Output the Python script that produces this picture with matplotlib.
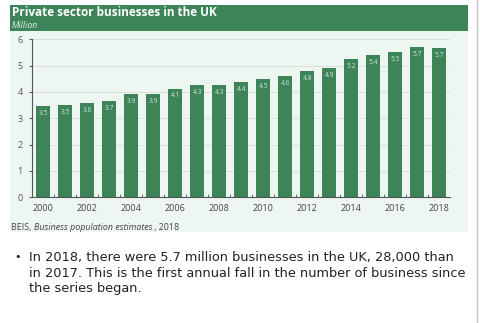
import numpy as np
import matplotlib
matplotlib.use("Agg")
import matplotlib.pyplot as plt
from matplotlib.patches import Rectangle
from matplotlib.lines import Line2D

# data (million businesses)
years = list(range(2000, 2019))
values = [3.46, 3.50, 3.57, 3.67, 3.93, 3.93, 4.13, 4.27, 4.28, 4.38,
          4.49, 4.59, 4.81, 4.92, 5.25, 5.41, 5.51, 5.70, 5.66]
labels = ["3.5", "3.5", "3.6", "3.7", "3.9", "3.9", "4.1", "4.3", "4.3", "4.4",
          "4.5", "4.6", "4.8", "4.9", "5.2", "5.4", "5.5", "5.7", "5.7"]
xticks = list(range(2000, 2019, 2))
yticks = [0, 1, 2, 3, 4, 5, 6]

W, H = 481, 323
GREEN = "#3d8459"
PANEL = "#eef6f1"
CHART_FONT = "Open Sans"

def fx(px):
  return px / W

def fy(py):
  return 1 - py / H

fig = plt.figure(figsize=(W/100, H/100), dpi=100)
fig.patch.set_facecolor("white")

## background panel and title band
fig.patches.append(Rectangle((fx(10), fy(232)), fx(468)-fx(10), fy(31)-fy(232),
  transform=fig.transFigure, facecolor=PANEL, edgecolor="none", zorder=-2))
fig.patches.append(Rectangle((fx(10), fy(31)), fx(468)-fx(10), fy(5)-fy(31),
  transform=fig.transFigure, facecolor=GREEN, edgecolor="none", zorder=-2))
fig.lines.append(Line2D([fx(477), fx(477)], [0, 1], transform=fig.transFigure,
  color="#c8c8c8", linewidth=1, zorder=-2))

fig.text(fx(12), fy(13), "Private sector businesses in the UK", color="white",
  fontsize=8.5, fontweight="bold", va="center", ha="left", family=CHART_FONT)
fig.text(fx(12), fy(25), "Million", color="#e4efe8", fontsize=6.3,
  fontstyle="italic", va="center", ha="left", family=CHART_FONT)

## bar chart
ax = fig.add_axes([fx(32.3), fy(197.3), fx(450)-fx(32.3), fy(39.3)-fy(197.3)])
ax.set_facecolor("none")
ax.bar(years, values, width=0.62, color=GREEN, zorder=2)
for x, v, lab in zip(years, values, labels):
  ax.text(x, v - 0.15, lab, color="#d3e3d8", fontsize=4.8, ha="center", va="top",
    zorder=3, family=CHART_FONT)

ax.set_xlim(1999.5, 2018.5)
ax.set_ylim(0, 6)
ax.set_yticks(yticks)
ax.set_xticks(xticks)
ax.set_xticks(np.arange(2000.5, 2018.5, 1), minor=True)
ax.tick_params(axis="x", which="major", length=0, labelsize=6.5, colors="#444444", pad=5)
ax.tick_params(axis="x", which="minor", length=2, direction="in", color="#555555")
ax.tick_params(axis="y", length=2, labelsize=6.5, colors="#555555", pad=5)
for lab in ax.get_xticklabels() + ax.get_yticklabels():
  lab.set_family(CHART_FONT)
ax.yaxis.grid(True, color="#d9dfdb", linewidth=0.7, zorder=1)
ax.set_axisbelow(True)
for side in ["top", "right"]:
  ax.spines[side].set_visible(False)
ax.spines["left"].set_color("#555555")
ax.spines["bottom"].set_color("#555555")
ax.spines["left"].set_linewidth(0.8)
ax.spines["bottom"].set_linewidth(0.8)

## source line, pieces chained one after another
src1 = fig.text(fx(11), fy(227.5), "BEIS, ", fontsize=6.4, color="#444444",
  va="center", family=CHART_FONT)
src2 = ax.annotate("Business population estimates", xy=(1, 0.5), xycoords=src1,
  fontsize=6.4, color="#444444", va="center", fontstyle="italic",
  family=CHART_FONT, annotation_clip=False)
ax.annotate(" , 2018", xy=(1, 0.5), xycoords=src2, fontsize=6.4, color="#444444",
  va="center", family=CHART_FONT, annotation_clip=False)

## bullet note
fig.text(fx(14), fy(257.5), "\u2022", fontsize=8, color="#222222", va="center")
note = ["In 2018, there were 5.7 million businesses in the UK, 28,000 than",
        "in 2017. This is the first annual fall in the number of business since",
        "the series began."]
for i, line in enumerate(note):
  fig.text(fx(29), fy(257.5 + 15.7*i), line, fontsize=9.3, color="#222222", va="center")

fig.savefig("out.png", dpi=100)
